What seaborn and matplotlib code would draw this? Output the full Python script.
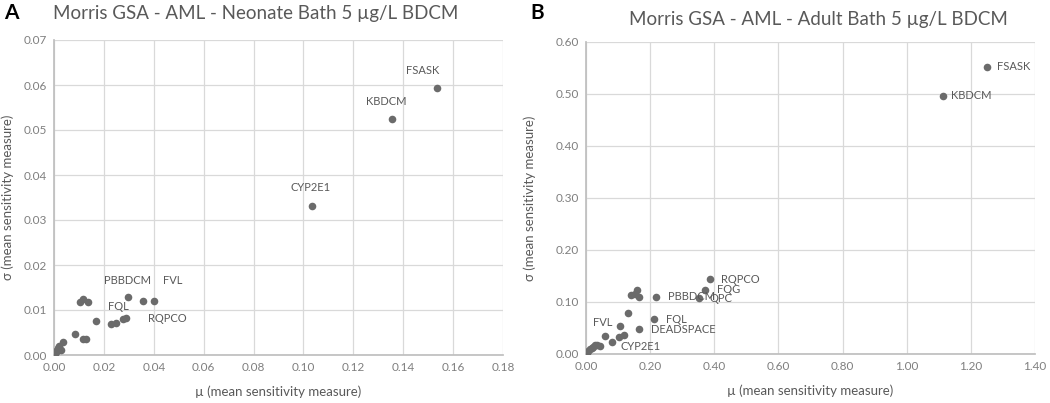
import matplotlib
matplotlib.use('Agg')
import matplotlib.pyplot as plt
import seaborn as sns
import pandas as pd

# Panel A - neonate bath
mu_neonate = [0.1535, 0.1356, 0.1036, 0.0295, 0.0401, 0.0357, 0.0167, 0.0247, 0.0287,
              0.0277, 0.0228, 0.0104, 0.0117, 0.0137, 0.0085, 0.0117, 0.0128, 0.0037,
              0.0030, 0.0017, 0.0008, 0.0004, 0.0000, 0.0010, 0.0022]
sigma_neonate = [0.0593, 0.0524, 0.0331, 0.0130, 0.0121, 0.0121, 0.0076, 0.0072, 0.0083,
                 0.0081, 0.0068, 0.0118, 0.0124, 0.0118, 0.0047, 0.0036, 0.0036, 0.0028,
                 0.0011, 0.0015, 0.0007, 0.0003, 0.0000, 0.0010, 0.0020]
names_neonate = ['FSASK', 'KBDCM', 'CYP2E1', 'PBBDCM', 'FVL', '', '', 'FQL', 'RQPCO',
                 '', '', '', '', '', '', '', '', '', '', '', '', '', '', '', '']

# Panel B - adult bath
mu_adult = [1.251, 1.112, 0.387, 0.371, 0.353, 0.218, 0.212, 0.166, 0.106, 0.080,
            0.158, 0.140, 0.165, 0.152, 0.132, 0.059, 0.104, 0.120, 0.044, 0.033,
            0.023, 0.012, 0.007, 0.002, 0.000, 0.018, 0.028]
sigma_adult = [0.552, 0.497, 0.144, 0.124, 0.108, 0.110, 0.067, 0.048, 0.054, 0.024,
               0.124, 0.113, 0.110, 0.116, 0.079, 0.035, 0.033, 0.036, 0.015, 0.017,
               0.014, 0.009, 0.005, 0.001, 0.000, 0.012, 0.018]
names_adult = ['FSASK', 'KBDCM', 'RQPCO', 'FQG', 'QPC', 'PBBDCM', 'FQL', 'DEADSPACE',
               'FVL', 'CYP2E1', '', '', '', '', '', '', '', '', '', '', '', '', '', '',
               '', '', '']

# label offsets in pixels (dx, dy, ha)
offsets_neonate = {'FSASK': (-14, 18, 'center'), 'KBDCM': (-6, 18, 'center'),
                   'CYP2E1': (-2, 19, 'center'), 'PBBDCM': (0, 16, 'center'),
                   'FVL': (19, 20, 'center'), 'FQL': (3, 16, 'center'),
                   'RQPCO': (22, -1, 'left')}
offsets_adult = {'FSASK': (10, 0, 'left'), 'KBDCM': (8, 0, 'left'),
                 'RQPCO': (11, 0, 'left'), 'FQG': (12, 0, 'left'),
                 'QPC': (10, -1, 'left'), 'PBBDCM': (12, 0, 'left'),
                 'FQL': (12, 0, 'left'), 'DEADSPACE': (12, 0, 'left'),
                 'FVL': (-8, 3, 'right'), 'CYP2E1': (9, -5, 'left')}

sns.set_theme(style='whitegrid')
plt.rcParams['font.family'] = ['Lato', 'DejaVu Sans']

TXT = '#595959'
TICK = '#7f7f7f'
PT = '#6b6b6b'
GRID = '#d9d9d9'

fig = plt.figure(figsize=(10.5, 4.03), dpi=100)
axA = fig.add_axes([54 / 1050, 1 - 355 / 403, 449 / 1050, 315 / 403])
axB = fig.add_axes([586 / 1050, 1 - 354 / 403, 449 / 1050, 312 / 403])


def draw_panel(ax, mu, sigma, names, offsets, xmax, xstep, ymax, ystep, ypad):
    df = pd.DataFrame({'mu': mu, 'sigma': sigma, 'name': names})
    sns.scatterplot(data=df, x='mu', y='sigma', ax=ax, color=PT, s=30,
                    edgecolor=PT, linewidth=0, zorder=3)
    for _, r in df.iterrows():
        if r['name']:
            dx, dy, ha = offsets[r['name']]
            ax.annotate(r['name'], (r['mu'], r['sigma']), xytext=(dx, dy),
                        textcoords='offset pixels', ha=ha, va='center',
                        fontsize=8, color=TXT, zorder=4)
    ax.set_xlim(0, xmax)
    ax.set_ylim(0, ymax)
    nx = int(round(xmax / xstep))
    ny = int(round(ymax / ystep))
    ax.set_xticks([i * xstep for i in range(nx + 1)])
    ax.set_yticks([i * ystep for i in range(ny + 1)])
    ax.xaxis.set_major_formatter(matplotlib.ticker.FormatStrFormatter('%.2f'))
    ax.yaxis.set_major_formatter(matplotlib.ticker.FormatStrFormatter('%.2f'))
    ax.grid(True, color=GRID, linewidth=0.9)
    for sp in ax.spines.values():
        sp.set_visible(False)
    ax.spines['left'].set_visible(True)
    ax.spines['bottom'].set_visible(True)
    ax.spines['left'].set_color('#bfbfbf')
    ax.spines['bottom'].set_color('#bfbfbf')
    ax.tick_params(axis='both', colors=TICK, labelsize=8.5, length=0, pad=5)
    ax.set_xlabel('µ (mean sensitivity measure)', color=TXT, fontsize=9.5, labelpad=9)
    ax.set_ylabel('σ (mean sensitivity measure)', color=TXT, fontsize=9.5, labelpad=ypad)
    ax.set_facecolor('white')


draw_panel(axA, mu_neonate, sigma_neonate, names_neonate, offsets_neonate,
           0.18, 0.02, 0.07, 0.01, 7)
draw_panel(axB, mu_adult, sigma_adult, names_adult, offsets_adult,
           1.40, 0.20, 0.60, 0.10, 14)

fig.text(256 / 1050, 1 - 13 / 403, 'Morris GSA - AML - Neonate Bath 5 µg/L BDCM',
         ha='center', va='center', fontsize=13.5, color=TXT)
fig.text(818 / 1050, 1 - 20 / 403, 'Morris GSA - AML - Adult Bath 5 µg/L BDCM',
         ha='center', va='center', fontsize=13.5, color=TXT)
fig.text(4 / 1050, 1 - 13 / 403, 'A', ha='left', va='center', fontsize=15,
         fontweight='bold', color='black')
fig.text(530 / 1050, 1 - 13 / 403, 'B', ha='left', va='center', fontsize=15,
         fontweight='bold', color='black')

fig.savefig('out.png', dpi=100, facecolor='white')
